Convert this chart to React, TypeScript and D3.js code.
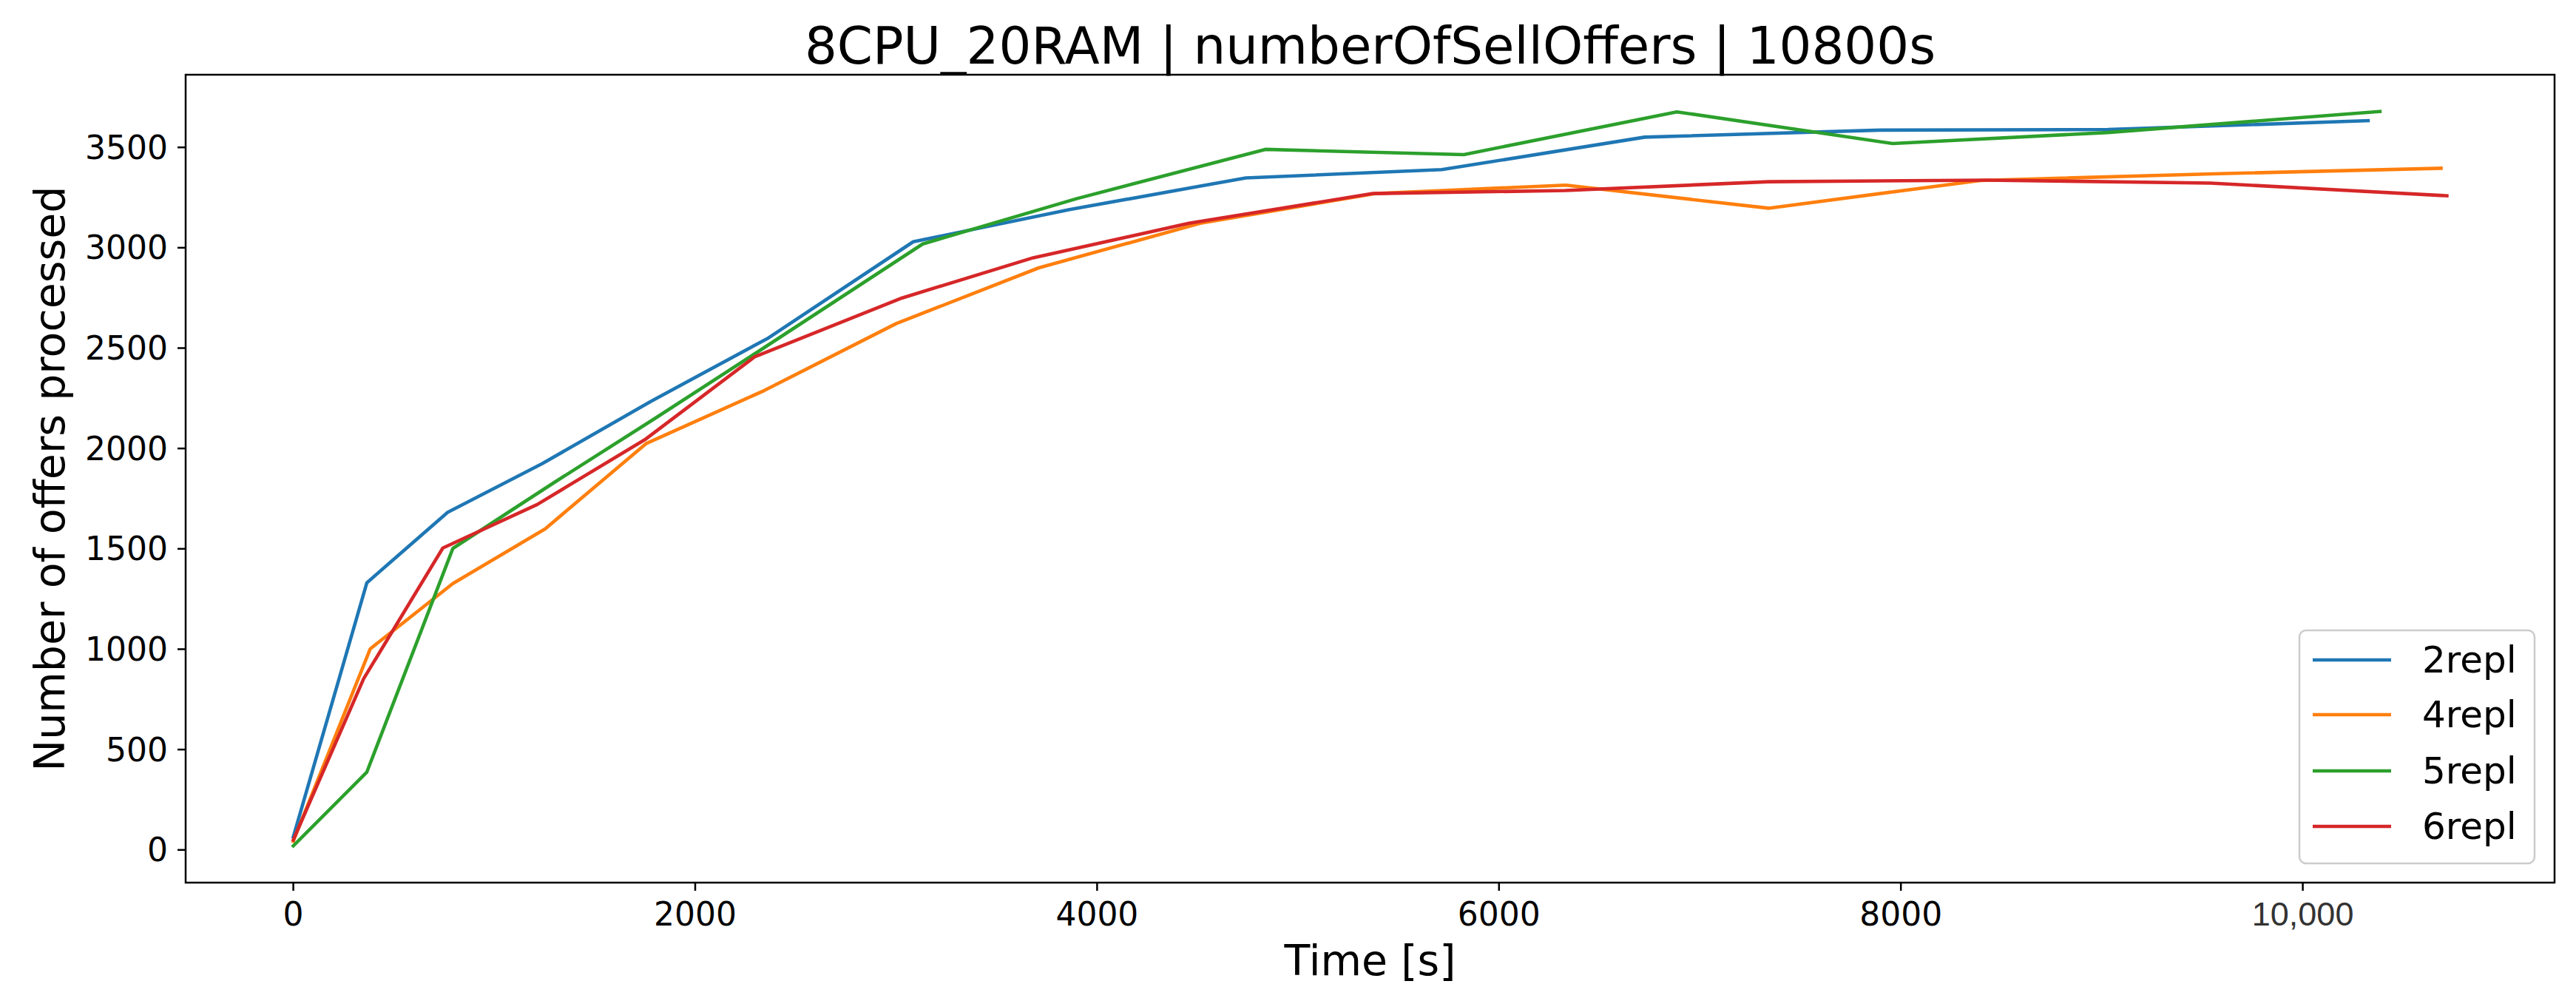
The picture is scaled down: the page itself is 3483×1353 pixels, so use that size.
import React from "react";
import * as d3 from "d3";

const seriesNames = ["2repl", "4repl", "5repl", "6repl"];
const seriesColors = ["#1f77b4", "#ff7f0e", "#2ca02c", "#d62728"];

const time2 = [0, 366, 768, 1238, 1778, 2365, 3085, 3863, 4740, 5715, 6725, 7900, 9030, 10325];
const vals2 = [65, 1331, 1682, 1924, 2234, 2551, 3030, 3190, 3348, 3389, 3551, 3586, 3589, 3633];

const time4 = [0, 383, 794, 1254, 1755, 2342, 3000, 3710, 4513, 5387, 6332, 7341, 8394, 9550, 10688];
const vals4 = [44, 1002, 1327, 1600, 2024, 2288, 2622, 2900, 3122, 3270, 3312, 3197, 3335, 3368, 3396];

const time5 = [0, 366, 794, 1285, 1800, 2306, 3132, 3900, 4837, 5825, 6885, 7959, 9029, 10384];
const vals5 = [20, 388, 1502, 1822, 2150, 2478, 3019, 3245, 3490, 3464, 3677, 3519, 3574, 3679];

const time6 = [0, 350, 744, 1214, 1754, 2295, 3030, 3682, 4457, 5373, 6330, 7341, 8426, 9541, 10717];
const vals6 = [50, 853, 1504, 1721, 2047, 2456, 2750, 2950, 3122, 3270, 3285, 3329, 3337, 3322, 3259];

const xTicks = [0, 2000, 4000, 6000, 8000, 10000];
const xTickLabels = ["0", "2000", "4000", "6000", "8000", "10,000"];
const yTicks = [0, 500, 1000, 1500, 2000, 2500, 3000, 3500];

const title = "8CPU_20RAM | numberOfSellOffers | 10800s";
const xLabel = "Time [s]";
const yLabel = "Number of offers processed";

const W = 3483;
const H = 1353;
const plot = { left: 251, right: 3454, top: 101, bottom: 1193 };
const FONT = "DejaVu Sans, sans-serif";

export default function App() {
  const times = [time2, time4, time5, time6];
  const vals = [vals2, vals4, vals5, vals6];
  const allT = times.flat();
  const allV = vals.flat();
  const [tMin, tMax] = d3.extent(allT) as [number, number];
  const [vMin, vMax] = d3.extent(allV) as [number, number];
  const tPad = (tMax - tMin) * 0.05;
  const vPad = (vMax - vMin) * 0.05;

  const x = d3.scaleLinear().domain([tMin - tPad, tMax + tPad]).range([plot.left, plot.right]);
  const y = d3.scaleLinear().domain([vMin - vPad, vMax + vPad]).range([plot.bottom, plot.top]);

  const line = d3
    .line<[number, number]>()
    .x((d) => x(d[0]))
    .y((d) => y(d[1]));

  const lw = 4.6;
  const legend = { x: 3109, y: 852, w: 318, h: 315 };
  const rowY = [892, 966, 1042, 1117];

  return (
    <svg
      width={W}
      height={H}
      style={{ position: "absolute", left: 0, top: 0, background: "#fff" }}
      xmlns="http://www.w3.org/2000/svg"
    >
      <rect x={0} y={0} width={W} height={H} fill="#fff" />
      <defs>
        <clipPath id="plotclip">
          <rect x={plot.left} y={plot.top} width={plot.right - plot.left} height={plot.bottom - plot.top} />
        </clipPath>
      </defs>

      <g clipPath="url(#plotclip)">
        {times.map((t, i) => (
          <path
            key={seriesNames[i]}
            d={line(t.map((tt, j) => [tt, vals[i][j]] as [number, number])) || ""}
            fill="none"
            stroke={seriesColors[i]}
            strokeWidth={lw}
            strokeLinejoin="round"
            strokeLinecap="square"
          />
        ))}
      </g>

      {/* spines */}
      <rect
        x={plot.left}
        y={plot.top}
        width={plot.right - plot.left}
        height={plot.bottom - plot.top}
        fill="none"
        stroke="#000"
        strokeWidth={2.5}
      />

      {/* y ticks */}
      {yTicks.map((v) => (
        <g key={"y" + v}>
          <line x1={plot.left - 11} x2={plot.left} y1={y(v)} y2={y(v)} stroke="#000" strokeWidth={2.5} />
          <text
            x={plot.left - 24}
            y={y(v)}
            textAnchor="end"
            dominantBaseline="central"
            fontFamily={FONT}
            fontSize={44}
            fill="#000"
          >
            {v}
          </text>
        </g>
      ))}

      {/* x ticks */}
      {xTicks.map((v, i) => (
        <g key={"x" + v}>
          <line x1={x(v)} x2={x(v)} y1={plot.bottom} y2={plot.bottom + 11} stroke="#000" strokeWidth={2.5} />
          <text
            x={x(v)}
            y={1251}
            textAnchor="middle"
            fontFamily={v === 10000 ? "Liberation Sans, Arial, sans-serif" : FONT}
            fontSize={v === 10000 ? 45 : 44}
            fill={v === 10000 ? "#333" : "#000"}
          >
            {xTickLabels[i]}
          </text>
        </g>
      ))}

      {/* title */}
      <text x={(plot.left + plot.right) / 2} y={86} textAnchor="middle" fontFamily={FONT} fontSize={69} fill="#000">
        {title}
      </text>

      {/* axis labels */}
      <text x={(plot.left + plot.right) / 2} y={1318} textAnchor="middle" fontFamily={FONT} fontSize={57} fill="#000">
        {xLabel}
      </text>
      <text
        transform={`translate(87, ${(plot.top + plot.bottom) / 2}) rotate(-90)`}
        textAnchor="middle"
        fontFamily={FONT}
        fontSize={57}
        fill="#000"
      >
        {yLabel}
      </text>

      {/* legend */}
      <rect
        x={legend.x}
        y={legend.y}
        width={legend.w}
        height={legend.h}
        rx={9}
        ry={9}
        fill="#fff"
        fillOpacity={0.8}
        stroke="#cccccc"
        strokeWidth={2.5}
      />
      {seriesNames.map((name, i) => (
        <g key={"leg" + name}>
          <line x1={3127} x2={3233} y1={rowY[i]} y2={rowY[i]} stroke={seriesColors[i]} strokeWidth={lw} />
          <text x={3275} y={rowY[i]} dominantBaseline="central" fontFamily={FONT} fontSize={50} fill="#000">
            {name}
          </text>
        </g>
      ))}
    </svg>
  );
}
